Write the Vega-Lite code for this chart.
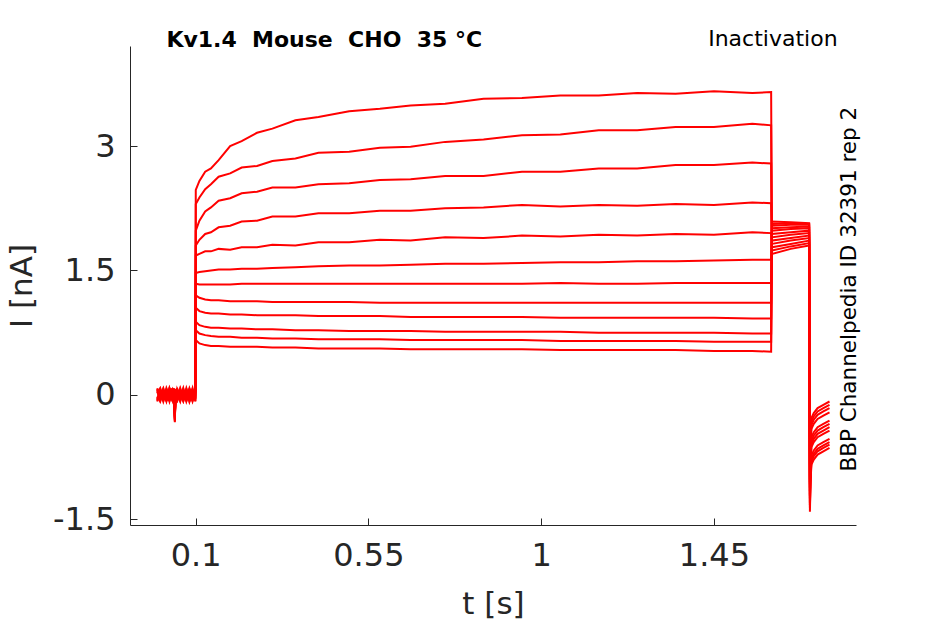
{
  "$schema": "https://vega.github.io/schema/vega-lite/v6.json",
  "width": 726,
  "height": 479,
  "autosize": {"type": "none"},
  "padding": {"left": 130, "top": 46, "right": 89, "bottom": 99},
  "background": "white",
  "config": {
    "view": {"stroke": null},
    "font": "DejaVu Sans",
    "axis": {
      "grid": false,
      "domainColor": "#262626",
      "tickColor": "#262626",
      "labelColor": "#262626",
      "titleColor": "#262626",
      "labelFont": "DejaVu Sans",
      "titleFont": "DejaVu Sans",
      "labelFontSize": 32,
      "titleFontSize": 31,
      "titleFontWeight": "normal",
      "tickSize": -7,
      "labelPadding": 22
    }
  },
  "datasets": {
    "traces": [
      {"t": 0, "c1": 0.04, "c2": -0.05, "c3": 0.08, "c4": -0.08, "c5": 0.02, "c6": -0.02, "c7": 0.06, "c8": -0.07, "c9": 0.03, "c10": -0.04, "c11": 0.07, "c12": -0.06},
      {"t": 0.008, "c1": -0.06, "c2": 0.07, "c3": -0.02, "c4": 0.03, "c5": 0.05, "c6": -0.08, "c7": -0.03, "c8": 0.04, "c9": 0.08, "c10": -0.01, "c11": -0.07, "c12": 0.02},
      {"t": 0.016, "c1": 0.07, "c2": -0.04, "c3": 0.03, "c4": -0.07, "c5": -0.08, "c6": 0.05, "c7": 0.01, "c8": -0.02, "c9": -0.05, "c10": 0.08, "c11": 0.02, "c12": -0.06},
      {"t": 0.024, "c1": -0.03, "c2": 0.06, "c3": -0.08, "c4": 0.08, "c5": 0.04, "c6": -0.06, "c7": -0.07, "c8": 0.07, "c9": 0.02, "c10": -0.05, "c11": 0.05, "c12": -0.02},
      {"t": 0.032, "c1": 0.05, "c2": -0.08, "c3": 0.07, "c4": -0.02, "c5": -0.05, "c6": 0.08, "c7": 0.08, "c8": -0.06, "c9": 0.04, "c10": -0.07, "c11": -0.03, "c12": 0.06},
      {"t": 0.04, "c1": -0.07, "c2": 0.05, "c3": 0.0, "c4": 0.08, "c5": 0.03, "c6": -0.04, "c7": -0.01, "c8": 0.06, "c9": -0.08, "c10": 0.02, "c11": -0.06, "c12": 0.07},
      {"t": 0.0445, "c1": 0.02, "c2": -0.03, "c3": 0.05, "c4": -0.06, "c5": 0.07, "c6": -0.08, "c7": 0.04, "c8": -0.01, "c9": 0.06, "c10": -0.05, "c11": 0.08, "c12": -0.07},
      {"t": 0.046, "c1": -0.29, "c2": -0.25, "c3": -0.32, "c4": -0.27, "c5": -0.3, "c6": -0.22, "c7": -0.28, "c8": -0.31, "c9": -0.26, "c10": -0.24, "c11": -0.33, "c12": -0.2},
      {"t": 0.0475, "c1": 0.01, "c2": -0.04, "c3": 0.03, "c4": -0.06, "c5": 0.06, "c6": -0.08, "c7": 0.07, "c8": -0.02, "c9": 0.04, "c10": -0.07, "c11": 0.05, "c12": -0.05},
      {"t": 0.052, "c1": 0.06, "c2": -0.06, "c3": 0.02, "c4": -0.08, "c5": -0.03, "c6": 0.07, "c7": -0.07, "c8": 0.04, "c9": -0.05, "c10": 0.08, "c11": -0.01, "c12": 0.03},
      {"t": 0.06, "c1": -0.05, "c2": 0.07, "c3": -0.08, "c4": 0.04, "c5": 0.01, "c6": -0.02, "c7": 0.05, "c8": -0.07, "c9": 0.08, "c10": -0.03, "c11": 0.03, "c12": -0.06},
      {"t": 0.068, "c1": 0.08, "c2": -0.04, "c3": 0.05, "c4": -0.07, "c5": -0.08, "c6": 0.03, "c7": -0.02, "c8": 0.06, "c9": -0.03, "c10": 0.02, "c11": -0.06, "c12": 0.07},
      {"t": 0.076, "c1": -0.06, "c2": 0.06, "c3": -0.02, "c4": 0.08, "c5": 0.03, "c6": -0.07, "c7": 0.07, "c8": -0.03, "c9": 0.01, "c10": -0.05, "c11": 0.05, "c12": -0.08},
      {"t": 0.084, "c1": 0.04, "c2": -0.08, "c3": 0.07, "c4": -0.04, "c5": -0.06, "c6": 0.06, "c7": -0.08, "c8": 0.02, "c9": -0.05, "c10": 0.08, "c11": -0.01, "c12": 0.03},
      {"t": 0.092, "c1": -0.07, "c2": 0.05, "c3": -0.03, "c4": 0.08, "c5": 0.02, "c6": -0.05, "c7": 0.01, "c8": -0.06, "c9": 0.07, "c10": -0.02, "c11": 0.04, "c12": -0.08},
      {"t": 0.0995, "c1": 0.03, "c2": -0.05, "c3": 0.08, "c4": -0.08, "c5": 0.06, "c6": -0.03, "c7": 0.05, "c8": 0.07, "c9": -0.02, "c10": 0.01, "c11": -0.07, "c12": 0.04},
      {"t": 0.1005, "c1": 2.47, "c2": 2.3, "c3": 1.98, "c4": 1.8, "c5": 1.68, "c6": 1.47, "c7": 1.34, "c8": 1.2, "c9": 1.05, "c10": 0.88, "c11": 0.78, "c12": 0.66},
      {"t": 0.11, "c1": 2.58, "c2": 2.38, "c3": 2.1, "c4": 1.87, "c5": 1.7, "c6": 1.48, "c7": 1.33, "c8": 1.17, "c9": 1.01, "c10": 0.84, "c11": 0.74, "c12": 0.62},
      {"t": 0.125, "c1": 2.69, "c2": 2.48, "c3": 2.21, "c4": 1.94, "c5": 1.73, "c6": 1.49, "c7": 1.33, "c8": 1.15, "c9": 0.99, "c10": 0.82, "c11": 0.72, "c12": 0.6},
      {"t": 0.14, "c1": 2.73, "c2": 2.54, "c3": 2.26, "c4": 1.96, "c5": 1.73, "c6": 1.5, "c7": 1.33, "c8": 1.14, "c9": 0.98, "c10": 0.81, "c11": 0.71, "c12": 0.59},
      {"t": 0.16, "c1": 2.83, "c2": 2.63, "c3": 2.34, "c4": 2.02, "c5": 1.76, "c6": 1.51, "c7": 1.33, "c8": 1.14, "c9": 0.98, "c10": 0.81, "c11": 0.7, "c12": 0.59},
      {"t": 0.19, "c1": 3.0, "c2": 2.67, "c3": 2.37, "c4": 2.04, "c5": 1.75, "c6": 1.51, "c7": 1.33, "c8": 1.13, "c9": 0.97, "c10": 0.8, "c11": 0.7, "c12": 0.58},
      {"t": 0.22, "c1": 3.06, "c2": 2.74, "c3": 2.43, "c4": 2.09, "c5": 1.78, "c6": 1.52, "c7": 1.34, "c8": 1.13, "c9": 0.97, "c10": 0.8, "c11": 0.69, "c12": 0.58},
      {"t": 0.26, "c1": 3.16, "c2": 2.76, "c3": 2.45, "c4": 2.1, "c5": 1.78, "c6": 1.52, "c7": 1.34, "c8": 1.13, "c9": 0.96, "c10": 0.79, "c11": 0.69, "c12": 0.58},
      {"t": 0.3, "c1": 3.21, "c2": 2.82, "c3": 2.5, "c4": 2.15, "c5": 1.81, "c6": 1.53, "c7": 1.34, "c8": 1.12, "c9": 0.96, "c10": 0.79, "c11": 0.68, "c12": 0.57},
      {"t": 0.36, "c1": 3.31, "c2": 2.85, "c3": 2.5, "c4": 2.15, "c5": 1.8, "c6": 1.54, "c7": 1.34, "c8": 1.12, "c9": 0.96, "c10": 0.78, "c11": 0.68, "c12": 0.57},
      {"t": 0.42, "c1": 3.35, "c2": 2.92, "c3": 2.54, "c4": 2.19, "c5": 1.84, "c6": 1.55, "c7": 1.34, "c8": 1.12, "c9": 0.95, "c10": 0.78, "c11": 0.67, "c12": 0.56},
      {"t": 0.5, "c1": 3.42, "c2": 2.93, "c3": 2.55, "c4": 2.19, "c5": 1.84, "c6": 1.56, "c7": 1.34, "c8": 1.12, "c9": 0.95, "c10": 0.77, "c11": 0.67, "c12": 0.56},
      {"t": 0.58, "c1": 3.45, "c2": 2.98, "c3": 2.59, "c4": 2.22, "c5": 1.87, "c6": 1.56, "c7": 1.34, "c8": 1.11, "c9": 0.95, "c10": 0.77, "c11": 0.67, "c12": 0.56},
      {"t": 0.66, "c1": 3.49, "c2": 2.99, "c3": 2.6, "c4": 2.22, "c5": 1.86, "c6": 1.57, "c7": 1.34, "c8": 1.11, "c9": 0.94, "c10": 0.77, "c11": 0.66, "c12": 0.55},
      {"t": 0.75, "c1": 3.51, "c2": 3.05, "c3": 2.64, "c4": 2.25, "c5": 1.9, "c6": 1.58, "c7": 1.34, "c8": 1.11, "c9": 0.94, "c10": 0.76, "c11": 0.66, "c12": 0.55},
      {"t": 0.85, "c1": 3.57, "c2": 3.08, "c3": 2.64, "c4": 2.26, "c5": 1.89, "c6": 1.58, "c7": 1.34, "c8": 1.11, "c9": 0.94, "c10": 0.76, "c11": 0.66, "c12": 0.55},
      {"t": 0.95, "c1": 3.58, "c2": 3.13, "c3": 2.69, "c4": 2.29, "c5": 1.92, "c6": 1.59, "c7": 1.34, "c8": 1.11, "c9": 0.94, "c10": 0.76, "c11": 0.66, "c12": 0.55},
      {"t": 1.05, "c1": 3.61, "c2": 3.14, "c3": 2.69, "c4": 2.27, "c5": 1.91, "c6": 1.6, "c7": 1.35, "c8": 1.11, "c9": 0.93, "c10": 0.76, "c11": 0.65, "c12": 0.54},
      {"t": 1.15, "c1": 3.61, "c2": 3.19, "c3": 2.73, "c4": 2.29, "c5": 1.93, "c6": 1.6, "c7": 1.34, "c8": 1.11, "c9": 0.93, "c10": 0.75, "c11": 0.65, "c12": 0.54},
      {"t": 1.25, "c1": 3.64, "c2": 3.19, "c3": 2.73, "c4": 2.28, "c5": 1.92, "c6": 1.61, "c7": 1.34, "c8": 1.11, "c9": 0.93, "c10": 0.75, "c11": 0.65, "c12": 0.54},
      {"t": 1.35, "c1": 3.63, "c2": 3.23, "c3": 2.77, "c4": 2.3, "c5": 1.94, "c6": 1.61, "c7": 1.35, "c8": 1.11, "c9": 0.93, "c10": 0.75, "c11": 0.65, "c12": 0.54},
      {"t": 1.45, "c1": 3.66, "c2": 3.23, "c3": 2.77, "c4": 2.29, "c5": 1.93, "c6": 1.62, "c7": 1.35, "c8": 1.11, "c9": 0.93, "c10": 0.75, "c11": 0.64, "c12": 0.53},
      {"t": 1.55, "c1": 3.64, "c2": 3.27, "c3": 2.8, "c4": 2.32, "c5": 1.96, "c6": 1.63, "c7": 1.35, "c8": 1.11, "c9": 0.92, "c10": 0.74, "c11": 0.64, "c12": 0.53},
      {"t": 1.599, "c1": 3.65, "c2": 3.25, "c3": 2.79, "c4": 2.31, "c5": 1.95, "c6": 1.63, "c7": 1.35, "c8": 1.11, "c9": 0.92, "c10": 0.74, "c11": 0.64, "c12": 0.52},
      {"t": 1.601, "c1": 1.7, "c2": 1.74, "c3": 1.78, "c4": 1.82, "c5": 1.86, "c6": 1.9, "c7": 1.94, "c8": 1.98, "c9": 2.01, "c10": 2.04, "c11": 2.06, "c12": 2.09},
      {"t": 1.65, "c1": 1.76, "c2": 1.79, "c3": 1.82, "c4": 1.86, "c5": 1.89, "c6": 1.93, "c7": 1.96, "c8": 2.0, "c9": 2.02, "c10": 2.05, "c11": 2.07, "c12": 2.08},
      {"t": 1.698, "c1": 1.8, "c2": 1.83, "c3": 1.86, "c4": 1.89, "c5": 1.92, "c6": 1.95, "c7": 1.98, "c8": 2.01, "c9": 2.03, "c10": 2.05, "c11": 2.06, "c12": 2.07},
      {"t": 1.7, "c1": -1.41, "c2": -1.36, "c3": -1.33, "c4": -1.3, "c5": -1.25, "c6": -1.22, "c7": -1.2, "c8": -1.16, "c9": -1.12, "c10": -1.08, "c11": -1.05, "c12": -1.02},
      {"t": 1.7015, "c1": -1.04, "c2": -1.0, "c3": -0.97, "c4": -0.93, "c5": -0.83, "c6": -0.79, "c7": -0.75, "c8": -0.71, "c9": -0.61, "c10": -0.56, "c11": -0.52, "c12": -0.48},
      {"t": 1.704, "c1": -0.84, "c2": -0.8, "c3": -0.77, "c4": -0.73, "c5": -0.63, "c6": -0.59, "c7": -0.55, "c8": -0.51, "c9": -0.41, "c10": -0.36, "c11": -0.32, "c12": -0.28},
      {"t": 1.71, "c1": -0.78, "c2": -0.74, "c3": -0.71, "c4": -0.67, "c5": -0.57, "c6": -0.53, "c7": -0.49, "c8": -0.45, "c9": -0.35, "c10": -0.3, "c11": -0.26, "c12": -0.22},
      {"t": 1.72, "c1": -0.72, "c2": -0.68, "c3": -0.65, "c4": -0.61, "c5": -0.51, "c6": -0.47, "c7": -0.43, "c8": -0.39, "c9": -0.29, "c10": -0.24, "c11": -0.2, "c12": -0.16},
      {"t": 1.735, "c1": -0.68, "c2": -0.64, "c3": -0.61, "c4": -0.57, "c5": -0.47, "c6": -0.43, "c7": -0.39, "c8": -0.35, "c9": -0.25, "c10": -0.2, "c11": -0.16, "c12": -0.12},
      {"t": 1.751, "c1": -0.64, "c2": -0.6, "c3": -0.57, "c4": -0.53, "c5": -0.43, "c6": -0.39, "c7": -0.35, "c8": -0.31, "c9": -0.21, "c10": -0.16, "c11": -0.12, "c12": -0.08}
    ],
    "one": [{}]
  },
  "layer": [
    {
      "data": {"name": "traces"},
      "transform": [
        {"fold": ["c1", "c2", "c3", "c4", "c5", "c6", "c7", "c8", "c9", "c10", "c11", "c12"], "as": ["trace", "i"]}
      ],
      "mark": {"type": "line", "color": "#ff0000", "strokeWidth": 2},
      "encoding": {
        "x": {
          "field": "t",
          "type": "quantitative",
          "title": "t [s]",
          "scale": {"domain": [-0.0708, 1.82], "nice": false, "zero": false},
          "axis": {"values": [0.1, 0.55, 1, 1.45], "labelExpr": "'' + datum.value", "titlePadding": 18}
        },
        "y": {
          "field": "i",
          "type": "quantitative",
          "title": "I [nA]",
          "scale": {"domain": [-1.569, 4.206], "nice": false, "zero": false},
          "axis": {"values": [-1.5, 0, 1.5, 3], "labelExpr": "'' + datum.value", "titlePadding": 14}
        },
        "detail": {"field": "trace"}
      }
    },
    {
      "data": {"name": "one"},
      "mark": {"type": "text", "font": "DejaVu Sans", "fontSize": 22, "fontWeight": "bold", "align": "left", "baseline": "alphabetic", "color": "black"},
      "encoding": {
        "x": {"datum": 0.024, "type": "quantitative", "scale": {"domain": [-0.0708, 1.82], "nice": false, "zero": false}},
        "y": {"datum": 4.19, "type": "quantitative", "scale": {"domain": [-1.569, 4.206], "nice": false, "zero": false}},
        "text": {"value": "Kv1.4\u00a0 Mouse\u00a0 CHO\u00a0 35 °C"}
      }
    },
    {
      "data": {"name": "one"},
      "mark": {"type": "text", "font": "DejaVu Sans", "fontSize": 22, "align": "right", "baseline": "alphabetic", "color": "black"},
      "encoding": {
        "x": {"datum": 1.772, "type": "quantitative", "scale": {"domain": [-0.0708, 1.82], "nice": false, "zero": false}},
        "y": {"datum": 4.2, "type": "quantitative", "scale": {"domain": [-1.569, 4.206], "nice": false, "zero": false}},
        "text": {"value": "Inactivation"}
      }
    },
    {
      "data": {"name": "one"},
      "mark": {"type": "text", "font": "DejaVu Sans", "fontSize": 21.5, "align": "center", "baseline": "alphabetic", "angle": 270, "color": "black"},
      "encoding": {
        "x": {"datum": 1.821, "type": "quantitative", "scale": {"domain": [-0.0708, 1.82], "nice": false, "zero": false}},
        "y": {"datum": 1.274, "type": "quantitative", "scale": {"domain": [-1.569, 4.206], "nice": false, "zero": false}},
        "text": {"value": "BBP Channelpedia ID 32391 rep 2"}
      }
    }
  ]
}
